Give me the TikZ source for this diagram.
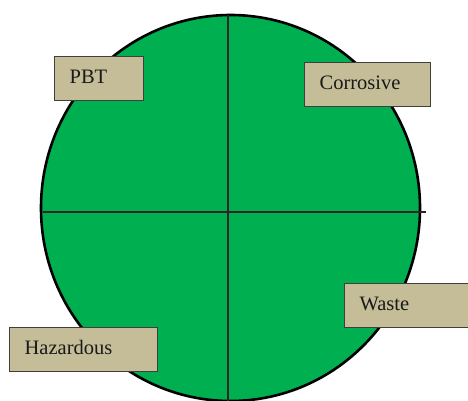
\documentclass[tikz,border=0pt]{standalone}
\usepackage{fontspec}
\setmainfont{Liberation Serif}
\newfontfamily\tagfont{Liberation Serif}
\usetikzlibrary{shapes.geometric}
\definecolor{discgreen}{RGB}{0,176,80}
\definecolor{tagtan}{RGB}{196,189,151}
\definecolor{tagedge}{RGB}{63,63,63}
\tikzset{
  disc/.style={ellipse, draw=black, line width=2.6pt, fill=discgreen, inner sep=0pt,
    minimum width=379pt, minimum height=386pt},
  axis/.style={draw=black!85, line width=1.1pt},
  tag/.style={rectangle, draw=tagedge, line width=1.3pt, fill=tagtan, anchor=north west,
    inner xsep=15pt, inner ysep=0pt, minimum height=44pt, align=left,
    text height=14pt, text depth=4pt, font=\tagfont\fontsize{20.5}{23}\selectfont, text=black!90}
}
\begin{document}
\begin{tikzpicture}[x=1pt, y=-1pt]
  \useasboundingbox (0,0) rectangle (468,401);
  \clip (0,0) rectangle (468,401);
  % green disc split into quadrants
  \node[disc] (d) at (230.5,208) {};
  \coordinate (hl) at (43,212);
  \coordinate (hr) at (426,212);
  \coordinate (vt) at (228,15);
  \coordinate (vb) at (228,401);
  \draw[axis] (vt) -- (vb);
  \draw[axis] (hl) -- (hr);
  % category labels
  \node[tag, text width=59pt] (pbt) at (54,56) {PBT};
  \node[tag, text width=96pt] (cor) at (304,62) {Corrosive};
  \node[tag, text width=100pt] (was) at (344,283) {Waste};
  \node[tag, text width=118pt] (haz) at (9,327) {Hazardous};
\end{tikzpicture}
\end{document}
